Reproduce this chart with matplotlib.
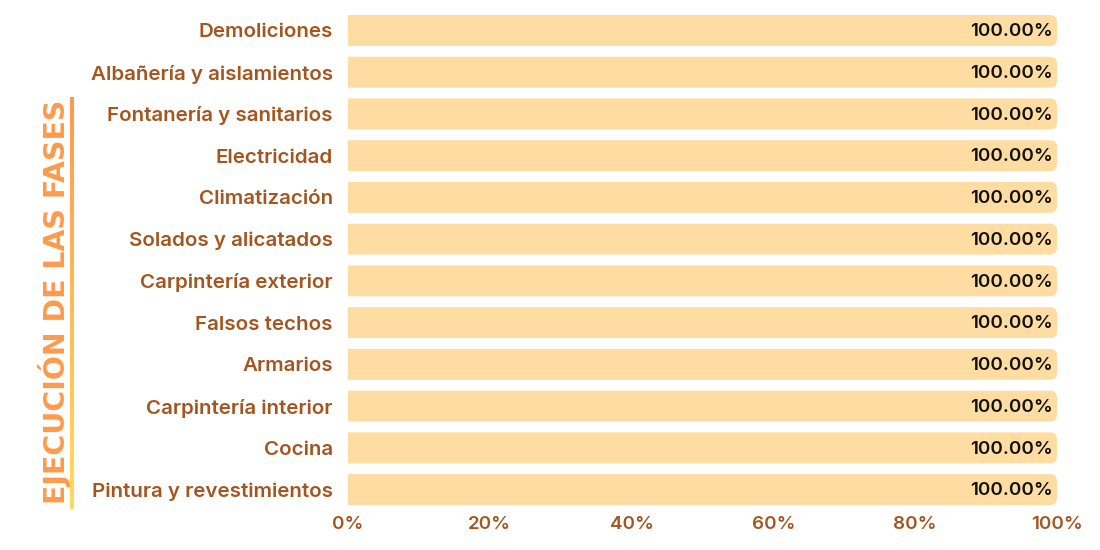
import matplotlib
matplotlib.use("Agg")
import matplotlib.pyplot as plt
import numpy as np
from matplotlib.patches import FancyBboxPatch
from matplotlib.colors import LinearSegmentedColormap

categories = ["Demoliciones", "Albañería y aislamientos", "Fontanería y sanitarios",
              "Electricidad", "Climatización", "Solados y alicatados",
              "Carpintería exterior", "Falsos techos", "Armarios",
              "Carpintería interior", "Cocina", "Pintura y revestimientos"]
values = [100.0] * 12
xticks = [0, 20, 40, 60, 80, 100]
xtick_labels = ["0%", "20%", "40%", "60%", "80%", "100%"]
side_title = "EJECUCIÓN DE LAS FASES"

BAR = "#FEDCA2"
BROWN = "#A3561F"
FONT = ["Inter", "DejaVu Sans"]

W, H = 1100, 550
fig = plt.figure(figsize=(11, 5.5), dpi=100)
ax_l, ax_r = 348 / W, 1057 / W
n = len(categories)
h = 0.74
step = (505 - 15) / (n - 1 + h)
top_px = 15 - (0.5 - h / 2) * step
bot_px = top_px + n * step
ax = fig.add_axes([ax_l, 1 - bot_px / H, ax_r - ax_l, (bot_px - top_px) / H])

y = np.arange(n)
bars = ax.barh(y, values, height=h, color="none")
px_x = (ax_r - ax_l) * W / 100.0
r_px = 7
rx = r_px / px_x
ry = r_px / step
for b, v in zip(bars, values):
    x0, y0 = b.get_x(), b.get_y()
    w, hh = b.get_width(), b.get_height()
    p = FancyBboxPatch((x0 - 3 * rx, y0), w + 3 * rx, hh,
                       boxstyle=f"round,pad=0,rounding_size={rx}",
                       mutation_aspect=ry / rx, facecolor=BAR, edgecolor="none", zorder=2)
    ax.add_patch(p)
    ax.text(x0 + w - 0.6, y0 + hh / 2 + 0.03, f"{v:.2f}%", ha="right", va="center",
            fontsize=13.5, color="#111111", family=FONT, fontweight="semibold", zorder=3)

ax.set_xlim(0, 100)
ax.set_ylim(n - 0.5, -0.5)
ax.set_yticks(y)
ax.set_yticklabels(categories, family=FONT, fontsize=14.8, fontweight="semibold", color=BROWN)
ax.set_xticks(xticks)
ax.set_xticklabels(xtick_labels, family=FONT, fontsize=13.5, fontweight="semibold", color=BROWN)
ax.tick_params(axis="both", length=0)
ax.tick_params(axis="y", pad=11)
ax.tick_params(axis="x", pad=4)
for s in ax.spines.values():
    s.set_visible(False)

# gradient vertical line
cmap = LinearSegmentedColormap.from_list("g", ["#FF9A4C", "#FFDA5E"])
lax = fig.add_axes([69.5 / W, 1 - 509 / H, 3.5 / W, (509 - 97) / H])
lax.imshow(np.linspace(0, 1, 256).reshape(-1, 1), aspect="auto", cmap=cmap)
lax.axis("off")

fig.text(55 / W, 1 - 301.5 / H, side_title, rotation=90, ha="center", va="center",
         fontsize=20.4, fontweight="bold", color="#FF9A4C", family=["DejaVu Sans"])

fig.savefig("out.png", dpi=100, facecolor="white")
